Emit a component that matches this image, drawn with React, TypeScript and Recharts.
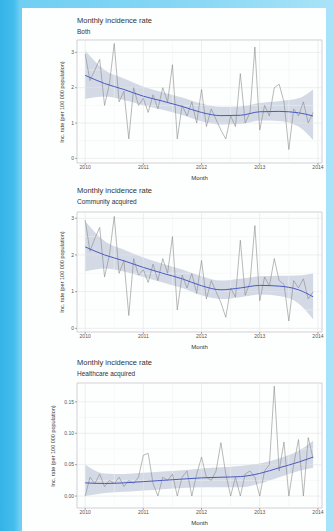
import React from 'react';
import { ComposedChart, Line, Area, XAxis, YAxis, ReferenceLine, ReferenceArea } from 'recharts';

// Monthly series, Jan 2010 – Dec 2013
const START_YEAR = 2010;
const N_MONTHS = 48;
const YEAR_TICKS = [2010, 2011, 2012, 2013, 2014];
const MINOR_X = [2010.5, 2011.5, 2012.5, 2013.5];
// Month indices at which the smoothed fit and its confidence band are given
const FIT_MONTHS = [0, 4, 8, 12, 16, 20, 24, 28, 32, 36, 40, 44, 47];

// Both
const BOTH_OBS = [2.95, 2.2, 2.5, 2.8, 1.5, 2.1, 3.25, 1.6, 1.9, 0.55, 2.0, 1.5, 1.7, 1.3, 1.8, 1.4, 2.0, 1.6, 2.65, 0.55, 1.5, 1.2, 1.6, 1.0, 1.95, 0.9, 1.4, 1.1, 0.8, 0.55, 1.2, 0.9, 2.4, 1.0, 1.3, 3.15, 0.8, 1.5, 1.2, 2.0, 2.1, 1.6, 0.25, 1.4, 1.2, 1.6, 1.0, 1.3];
const BOTH_FIT = [2.35, 2.12, 1.95, 1.76, 1.62, 1.47, 1.3, 1.21, 1.22, 1.32, 1.33, 1.29, 1.2];
const BOTH_LO = [1.68, 1.75, 1.65, 1.5, 1.38, 1.23, 1.05, 0.96, 0.97, 1.07, 1.06, 0.9, 0.52];
const BOTH_HI = [3.05, 2.5, 2.26, 2.03, 1.87, 1.72, 1.55, 1.46, 1.47, 1.57, 1.62, 1.7, 1.95];

// Community acquired
const COMM_OBS = [2.95, 2.1, 2.45, 2.75, 1.4, 2.0, 3.05, 1.5, 1.85, 0.35, 1.9, 1.45, 1.6, 1.25, 1.75, 1.3, 1.9, 1.5, 2.5, 0.5, 1.45, 1.1, 1.5, 0.95, 1.85, 0.8, 1.3, 1.0, 0.7, 0.3, 1.1, 0.85, 2.4, 0.9, 1.25, 2.8, 0.75, 1.4, 1.15, 1.9, 1.3, 1.2, 0.2, 1.3, 1.1, 1.35, 0.8, 1.0];
const COMM_FIT = [2.22, 2.0, 1.84, 1.66, 1.5, 1.35, 1.16, 1.05, 1.1, 1.17, 1.15, 1.05, 0.86];
const COMM_LO = [1.55, 1.63, 1.55, 1.4, 1.25, 1.1, 0.9, 0.8, 0.85, 0.92, 0.88, 0.68, 0.25];
const COMM_HI = [2.92, 2.38, 2.14, 1.93, 1.76, 1.6, 1.42, 1.3, 1.35, 1.42, 1.43, 1.44, 1.5];

// Healthcare acquired
const HC_OBS = [0.0, 0.03, 0.02, 0.035, 0.015, 0.025, 0.02, 0.03, 0.015, 0.025, 0.02, 0.03, 0.065, 0.068, 0.02, 0.0, 0.03, 0.025, 0.035, 0.0, 0.03, 0.04, 0.0, 0.035, 0.062, 0.03, 0.025, 0.04, 0.085, 0.035, 0.0, 0.03, 0.0, 0.035, 0.04, 0.03, 0.0, 0.04, 0.05, 0.175, 0.04, 0.086, 0.0, 0.05, 0.09, 0.0, 0.093, 0.06];
const HC_FIT = [0.021, 0.02, 0.021, 0.023, 0.025, 0.027, 0.029, 0.03, 0.031, 0.036, 0.045, 0.054, 0.062];
const HC_LO = [0.0, 0.005, 0.007, 0.009, 0.011, 0.013, 0.014, 0.014, 0.014, 0.02, 0.03, 0.04, 0.045];
const HC_HI = [0.05, 0.036, 0.035, 0.037, 0.039, 0.041, 0.044, 0.046, 0.048, 0.052, 0.06, 0.072, 0.088];

const TITLE = 'Monthly incidence rate';
const SUBTITLES = ['Both', 'Community acquired', 'Healthcare acquired'];
const Y_LABEL = 'Inc. rate (per 100 000 population)';
const X_LABEL = 'Month';

const FONT = '"Liberation Sans", Arial, sans-serif';
const X_DOMAIN: [number, number] = [2009.86, 2014.07];

const monthT = (i: number) => START_YEAR + i / 12;

type PanelProps = {
  subtitle: string;
  obs: number[];
  fit: number[];
  lo: number[];
  hi: number[];
  yTicks: number[];
  yMinor: number[];
  yDomain: [number, number];
  fmt: (v: number) => string;
  titleY: number;
  plotTop: number;
  plotBottom: number;
  yLabelX: number;
};

function Panel(p: PanelProps) {
  const obsData = Array.from({ length: N_MONTHS }, (_, i) => ({ t: monthT(i), v: p.obs[i] }));
  const fitData = FIT_MONTHS.map((m, k) => ({ t: monthT(m), fit: p.fit[k], band: [p.lo[k], p.hi[k]] }));
  const mTop = 4;
  const axisH = 18;
  const plotH = p.plotBottom - p.plotTop;
  const textCol = '#333333';
  return (
    <>
      <div style={{ position: 'absolute', left: 77, top: p.titleY - 5, fontFamily: FONT, fontSize: 7.5, color: textCol, lineHeight: '10px', whiteSpace: 'nowrap' }}>
        {TITLE}
      </div>
      <div style={{ position: 'absolute', left: 77, top: p.titleY + 6, fontFamily: FONT, fontSize: 6.5, color: textCol, lineHeight: '9px', whiteSpace: 'nowrap' }}>
        {p.subtitle}
      </div>
      <div
        style={{
          position: 'absolute',
          left: p.yLabelX,
          top: (p.plotTop + p.plotBottom) / 2,
          transform: 'translate(-50%, -50%) rotate(-90deg)',
          fontFamily: FONT,
          fontSize: 5.5,
          color: textCol,
          whiteSpace: 'nowrap',
        }}
      >
        {Y_LABEL}
      </div>
      <div style={{ position: 'absolute', left: 0, top: p.plotTop - mTop }}>
        <ComposedChart
          width={333}
          height={plotH + mTop + axisH}
          margin={{ top: mTop, right: 11, bottom: 0, left: 55 }}
        >
          <XAxis
            dataKey="t"
            type="number"
            domain={X_DOMAIN}
            ticks={YEAR_TICKS}
            interval={0}
            allowDataOverflow
            axisLine={false}
            tickLine={{ stroke: '#555', strokeWidth: 0.5 }}
            tickSize={2}
            tickMargin={0.5}
            height={axisH}
            tick={{ fontSize: 5, fill: '#555', fontFamily: FONT }}
            tickFormatter={(v: number) => String(v)}
            label={{ value: X_LABEL, position: 'insideBottom', offset: 1, fontSize: 6, fill: textCol, fontFamily: FONT }}
          />
          <YAxis
            type="number"
            domain={p.yDomain}
            ticks={p.yTicks}
            interval={0}
            allowDataOverflow
            axisLine={false}
            tickLine={{ stroke: '#555', strokeWidth: 0.5 }}
            tickSize={2}
            tickMargin={1}
            width={22}
            tick={{ fontSize: 5, fill: '#555', fontFamily: FONT }}
            tickFormatter={p.fmt}
          />
          {p.yMinor.map((v) => (
            <ReferenceLine key={'ym' + v} y={v} stroke="#f3f3f3" strokeWidth={0.5} />
          ))}
          {MINOR_X.map((v) => (
            <ReferenceLine key={'xm' + v} x={v} stroke="#f3f3f3" strokeWidth={0.5} />
          ))}
          {p.yTicks.map((v) => (
            <ReferenceLine key={'yM' + v} y={v} stroke="#e4e4e4" strokeWidth={0.6} />
          ))}
          {YEAR_TICKS.map((v) => (
            <ReferenceLine key={'xM' + v} x={v} stroke="#e4e4e4" strokeWidth={0.6} />
          ))}
          <Area
            data={fitData}
            dataKey="band"
            type="monotone"
            stroke="none"
            fill="#aab3cc"
            fillOpacity={0.5}
            isAnimationActive={false}
          />
          <Line
            data={obsData}
            dataKey="v"
            type="linear"
            stroke="#8a8a8a"
            strokeWidth={0.6}
            dot={false}
            isAnimationActive={false}
          />
          <Line
            data={fitData}
            dataKey="fit"
            type="monotone"
            stroke="#4a5ac4"
            strokeWidth={1}
            dot={false}
            isAnimationActive={false}
          />
          <ReferenceArea
            x1={X_DOMAIN[0]}
            x2={X_DOMAIN[1]}
            y1={p.yDomain[0]}
            y2={p.yDomain[1]}
            fill="none"
            stroke="#c4bcc4"
            strokeWidth={0.7}
          />
        </ComposedChart>
      </div>
    </>
  );
}

export default function App() {
  const intFmt = (v: number) => String(v);
  const decFmt = (v: number) => v.toFixed(2);
  return (
    <div
      style={{
        position: 'absolute',
        left: 0,
        top: 0,
        width: 333,
        height: 531,
        overflow: 'hidden',
        background: 'linear-gradient(to right, #34b3e8 0px, #45bdec 14px, #6fcff3 20px, #8ad8f5 60%, #a9e3f8 100%)',
      }}
    >
      <div style={{ position: 'absolute', left: 22, top: 8, width: 304, height: 523, background: '#fdfefe' }} />
      <Panel
        subtitle={SUBTITLES[0]}
        obs={BOTH_OBS}
        fit={BOTH_FIT}
        lo={BOTH_LO}
        hi={BOTH_HI}
        yTicks={[0, 1, 2, 3]}
        yMinor={[0.5, 1.5, 2.5]}
        yDomain={[-0.13, 3.35]}
        fmt={intFmt}
        titleY={21}
        plotTop={40}
        plotBottom={163}
        yLabelX={62}
      />
      <Panel
        subtitle={SUBTITLES[1]}
        obs={COMM_OBS}
        fit={COMM_FIT}
        lo={COMM_LO}
        hi={COMM_HI}
        yTicks={[0, 1, 2, 3]}
        yMinor={[0.5, 1.5, 2.5]}
        yDomain={[-0.1, 3.17]}
        fmt={intFmt}
        titleY={191}
        plotTop={212}
        plotBottom={332}
        yLabelX={62}
      />
      <Panel
        subtitle={SUBTITLES[2]}
        obs={HC_OBS}
        fit={HC_FIT}
        lo={HC_LO}
        hi={HC_HI}
        yTicks={[0, 0.05, 0.1, 0.15]}
        yMinor={[0.025, 0.075, 0.125]}
        yDomain={[-0.019, 0.18]}
        fmt={decFmt}
        titleY={363}
        plotTop={383}
        plotBottom={508}
        yLabelX={53}
      />
    </div>
  );
}
